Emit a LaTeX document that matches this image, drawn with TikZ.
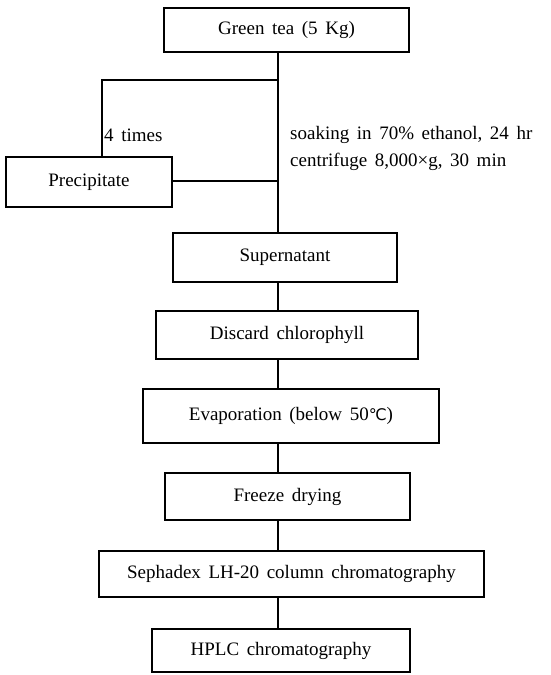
\documentclass[tikz,border=0pt]{standalone}
\usepackage{fontspec}
\setmainfont{Liberation Serif}
\newfontfamily\symfont{DejaVu Sans}
\newcommand{\reffont}{\fontsize{19}{22}\selectfont\spaceskip=0.4em plus 0.1em minus 0.05em\relax}
\begin{document}
\begin{tikzpicture}[x=1pt,y=-1pt,
  box/.style={draw,line width=1.3pt,inner sep=0pt,font=\reffont},
  conn/.style={line width=1.4pt},
  lbl/.style={font=\reffont,inner sep=0pt,anchor=west}]
\useasboundingbox (0,0) rectangle (550,675);
\node[box,minimum width=245pt,minimum height=44pt] (gt) at (286.5,30) {Green tea (5 Kg)};
\node[box,minimum width=166pt,minimum height=50pt] (pr) at (89,182) {Precipitate};
\node[box,minimum width=224pt,minimum height=49pt] (su) at (285,257.5) {Supernatant};
\node[box,minimum width=262pt,minimum height=48pt] (dc) at (287,335) {Discard chlorophyll};
\node[box,minimum width=296pt,minimum height=54pt] (ev) at (291,416) {Evaporation (below 50{\symfont\fontsize{16}{19}\selectfont ℃})};
\node[box,minimum width=245pt,minimum height=47pt] (fd) at (287.5,496.5) {Freeze drying};
\node[box,minimum width=385pt,minimum height=46pt] (se) at (291.5,574) {Sephadex LH-20 column chromatography};
\node[box,minimum width=258pt,minimum height=43pt] (hp) at (281,650.5) {HPLC chromatography};
\coordinate (ja) at (278,80);
\coordinate (jb) at (102,80);
\coordinate (jc) at (278,181);
\draw[conn] (gt.south -| ja) -- (su.north -| ja);
\draw[conn] (ja) -- (jb) -- (pr.north -| jb);
\draw[conn] (pr.east |- jc) -- (jc);
\draw[conn] (su.south -| ja) -- (dc.north -| ja);
\draw[conn] (dc.south -| ja) -- (ev.north -| ja);
\draw[conn] (ev.south -| ja) -- (fd.north -| ja);
\draw[conn] (fd.south -| ja) -- (se.north -| ja);
\draw[conn] (se.south -| ja) -- (hp.north -| ja);
\node[lbl] (t4) at (104,135) {4 times};
\node[lbl] (s1) at (290,135) {soaking in 70\% ethanol, 24 hr};
\node[lbl] (s2) at (290,162) {centrifuge 8,000\texttimes g, 30 min};
\end{tikzpicture}
\end{document}
